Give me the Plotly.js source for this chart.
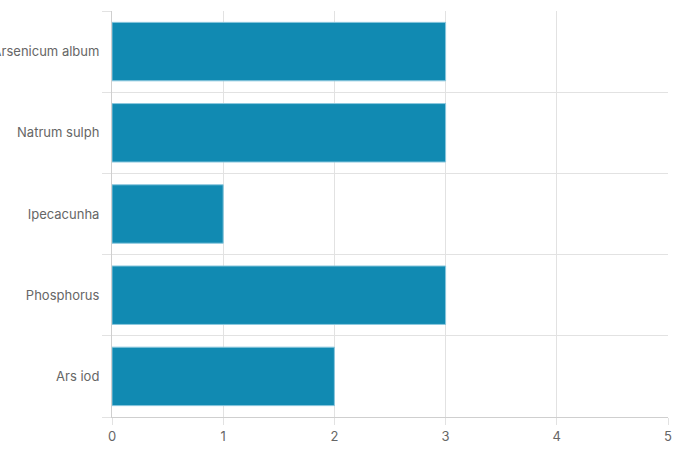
<!DOCTYPE html>
<html><head><meta charset="utf-8">
<script src="https://cdn.plot.ly/plotly-3.0.1.min.js"></script>
<style>html,body{margin:0;padding:0;background:#fff}#c{width:675px;height:450px}</style>
</head><body><div id="c"></div>
<script>
const categories = ["Ars iod", "Phosphorus", "Ipecacunha", "Natrum sulph", "Arsenicum album"];
const values = [2, 3, 1, 3, 3];
const xTicks = [0, 1, 2, 3, 4, 5];

Plotly.newPlot('c', [{
  type: 'bar', orientation: 'h', y: categories, x: values,
  marker: {color: '#118ab2', line: {color: 'rgba(140,200,222,1)', width: 1}},
  hoverinfo: 'x+y'
}], {
  width: 675, height: 450,
  margin: {l: 112, r: 7, t: 11, b: 33},
  paper_bgcolor: '#fff', plot_bgcolor: '#fff',
  font: {family: 'Inter, sans-serif', size: 13, color: '#666'},
  bargap: 0.28,
  showlegend: false,
  xaxis: {range: [0, 5], tickvals: xTicks, ticktext: xTicks.map(String),
    showgrid: true, gridcolor: '#e2e2e2', gridwidth: 1,
    ticks: 'outside', ticklen: 7, tickcolor: '#e2e2e2',
    showline: true, linecolor: '#cfcfcf', linewidth: 1,
    zeroline: false, fixedrange: true, tickfont: {size: 13, color: '#666'}},
  yaxis: {type: 'category', categoryorder: 'array', categoryarray: categories,
    tickson: 'boundaries', showgrid: true, gridcolor: '#e2e2e2', gridwidth: 1,
    ticks: 'outside', ticklen: 9, tickcolor: '#e2e2e2',
    showline: true, linecolor: '#cfcfcf', linewidth: 1,
    zeroline: false, fixedrange: true, ticklabelstandoff: 9,
    tickfont: {size: 13, color: '#666'}}
}, {displayModeBar: false, staticPlot: true});
</script></body></html>
